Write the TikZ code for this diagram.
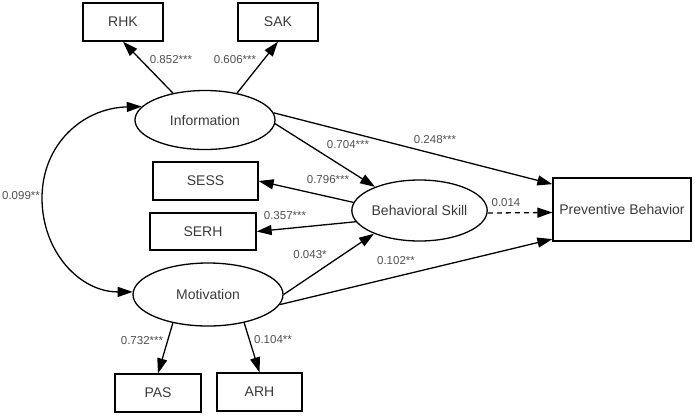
\documentclass[tikz,border=0pt]{standalone}
\usepackage{fontspec}
\setmainfont{Liberation Sans}
\usetikzlibrary{arrows.meta,shapes.geometric}
\definecolor{txt}{HTML}{3A3A3A}
\definecolor{lbl}{HTML}{505050}
\begin{document}
\begin{tikzpicture}[x=1pt,y=-1pt,
  box/.style={draw=black,line width=1.3pt,rectangle,inner sep=0pt,text=txt,font=\fontsize{14}{16}\selectfont},
  lat/.style={draw=black,line width=1.3pt,ellipse,inner sep=0pt,text=txt,font=\fontsize{14}{16}\selectfont},
  path/.style={line width=1.3pt,-{Triangle[length=15pt,width=10pt]}},
  coef/.style={text=lbl,font=\fontsize{11.5}{13}\selectfont,inner sep=0pt}]
\useasboundingbox (0,0) rectangle (695,416);
\node[box,minimum width=80pt,minimum height=38pt] (rhk) at (123,22) {RHK};
\node[box,minimum width=80pt,minimum height=38pt] (sak) at (278,22) {SAK};
\node[lat,minimum width=140pt,minimum height=59pt] (inf) at (205,120) {Information};
\node[box,minimum width=105pt,minimum height=38pt] (sess) at (205.5,181) {SESS};
\node[box,minimum width=106pt,minimum height=37pt] (serh) at (203,231.5) {SERH};
\node[lat,minimum width=135pt,minimum height=61pt] (bs) at (419.5,210.5) {Behavioral Skill};
\node[box,minimum width=138pt,minimum height=63pt] (pb) at (622,209.5) {Preventive Behavior};
\node[lat,minimum width=150pt,minimum height=63pt] (mot) at (208,294.5) {Motivation};
\node[box,minimum width=86pt,minimum height=38pt] (pas) at (158,393) {PAS};
\node[box,minimum width=85pt,minimum height=38pt] (arh) at (259.5,392) {ARH};
% arrows
\draw[path] (inf.140) -- (rhk.south);
\draw[path] (inf.40) -- (sak.south);
\draw[path] (inf.-3) -- (bs.152);
\draw[path] (inf.6) -- (pb.160);
\draw[path] (bs.173) -- (sess.east);
\draw[path] (bs.190) -- (serh.east);
\draw[path] (mot.0) -- (bs.207);
\draw[path] (mot.352) -- (pb.203);
\draw[path,dash pattern=on 5pt off 4pt] ([yshift=-2.5pt]bs.east) -- ([yshift=-3pt]pb.west);
\draw[path] (mot.219) -- (pas.north);
\draw[path] (mot.322) -- (arh.north);
\coordinate (cl) at (42,198);
\draw[line width=1.3pt,{Triangle[length=15pt,width=10pt]}-{Triangle[length=15pt,width=10pt]}]
  (inf.168) .. controls (82,108) and (42,145) .. (cl) .. controls (42,252) and (80,292) .. (mot.178);
% coefficients
\node[coef] (c1) at (171,60) {0.852***};
\node[coef] (c2) at (235,60) {0.606***};
\node[coef] (c3) at (348,145) {0.704***};
\node[coef] (c4) at (435,140) {0.248***};
\node[coef] (c5) at (328,180) {0.796***};
\node[coef] (c6) at (285,216) {0.357***};
\node[coef] (c7) at (310,255) {0.043*};
\node[coef] (c8) at (506,203) {0.014};
\node[coef] (c9) at (396,261) {0.102**};
\node[coef] (c10) at (142,341) {0.732***};
\node[coef] (c11) at (273,340) {0.104**};
\node[coef] (c12) at (21,196) {0.099**};
\end{tikzpicture}
\end{document}
